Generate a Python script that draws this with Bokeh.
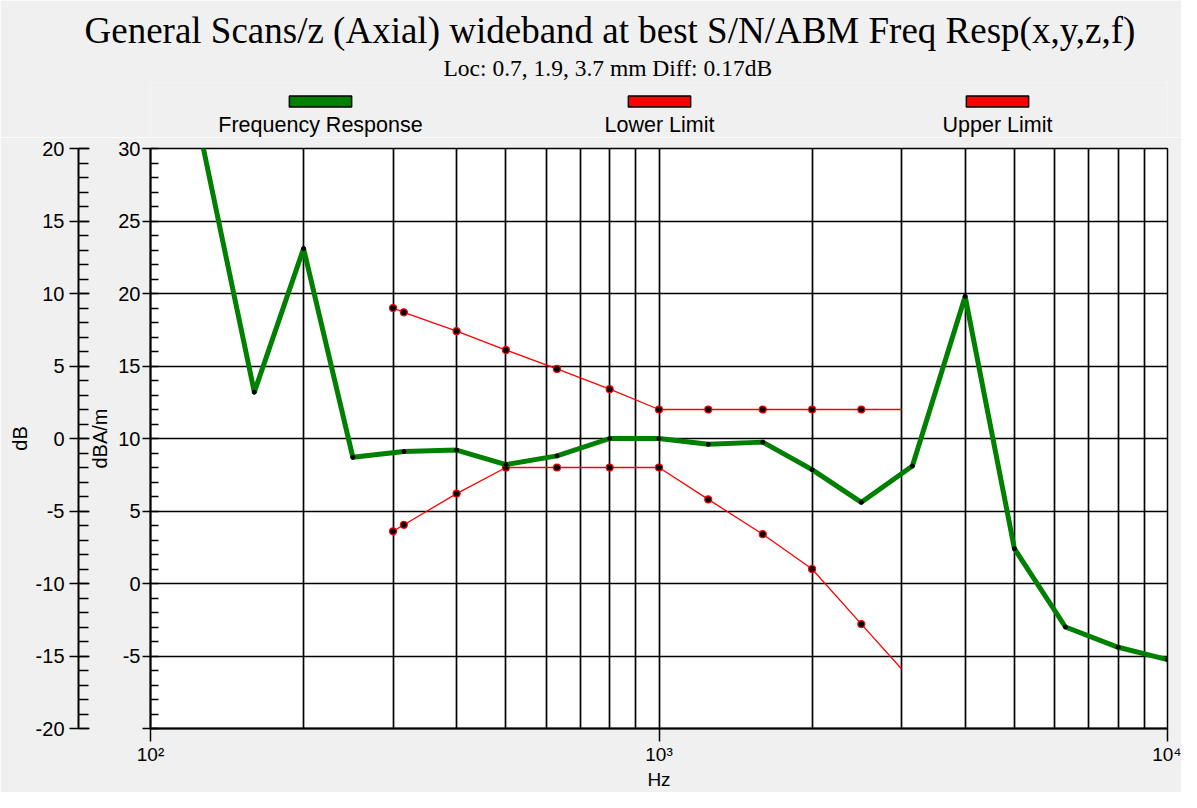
from bokeh.plotting import figure
from bokeh.layouts import column
from bokeh.models import (Range1d, LinearAxis, SingleIntervalTicker, FixedTicker,
                          Label, Title, ColumnDataSource, PrintfTickFormatter)
from bokeh.embed import file_html
from bokeh.resources import INLINE

title_text = "General Scans/z (Axial) wideband at best S/N/ABM Freq Resp(x,y,z,f)"
subtitle_text = "Loc: 0.7, 1.9, 3.7 mm Diff: 0.17dB"
legend_names = ["Frequency Response", "Lower Limit", "Upper Limit"]
legend_colors = ["#008000", "#FF0000", "#FF0000"]

# Frequency response (dBA/m scale)
fr_freq = [125, 160, 200, 250, 315, 400, 500, 630, 800, 1000, 1250, 1600,
           2000, 2500, 3150, 4000, 5000, 6300, 8000, 10000]
fr_val = [31.2, 13.2, 23.1, 8.7, 9.1, 9.2, 8.2, 8.8, 10.0, 10.0, 9.6, 9.75,
          7.85, 5.6, 8.1, 19.8, 2.4, -3.0, -4.4, -5.25]

upper_freq = [300, 315, 400, 500, 630, 800, 1000, 1250, 1600, 2000, 2500, 3000]
upper_val = [19.0, 18.7, 17.4, 16.1, 14.8, 13.4, 12, 12, 12, 12, 12, 12]

lower_freq = [300, 315, 400, 500, 630, 800, 1000, 1250, 1600, 2000, 2500, 3000]
lower_val = [3.6, 4.05, 6.2, 8, 8, 8, 8, 5.8, 3.4, 1.0, -2.8, -5.9]

x_major = [100, 1000, 10000]
x_major_labels = {100: "10²", 1000: "10³", 10000: "10⁴"}
x_minor = [m * 10 ** e for e in (2, 3) for m in range(2, 10)]

SANS = "Liberation Sans"
SERIF = "Liberation Serif"
BG = "#F0F0F0"
W = 1181
HEAD_H = 137
MAIN_H = 655
FL, FR = 150, 14   # frame borders left / right (shared by both canvases)

# ---------------- header (title, subtitle, legend) ----------------
head = figure(width=W, height=HEAD_H, title=None,
              x_range=Range1d(0, 1), y_range=Range1d(0, 1),
              output_backend="svg", toolbar_location=None,
              x_axis_location=None, y_axis_location=None,
              min_border_left=FL, min_border_right=FR,
              min_border_top=82, min_border_bottom=0)
head.grid.visible = False
head.outline_line_color = None
head.background_fill_color = BG
head.border_fill_color = BG

# subtitle first (closest to the legend), then main title on top
head.add_layout(Title(text=subtitle_text, align="left", offset=293,
                      vertical_align="bottom", standoff=4,
                      text_font=SERIF, text_font_size="23.5px",
                      text_font_style="normal", text_color="black"), "above")
head.add_layout(Title(text=title_text, align="left", offset=-66,
                      vertical_align="bottom", standoff=0,
                      text_font=SERIF, text_font_size="37px",
                      text_font_style="normal", text_color="black"), "above")

legend_x = [170, 509, 847]          # frame-relative centres
for name, col, lx in zip(legend_names, legend_colors, legend_x):
    head.add_layout(Label(x=lx, y=36, x_units="screen", y_units="screen", text=" ",
                          text_align="center", text_baseline="middle",
                          text_font_size="1px",
                          padding=dict(left=31, right=31, top=5, bottom=5),
                          background_fill_color=col, border_line_color="black",
                          border_line_width=1.5))
    head.add_layout(Label(x=lx, y=12.5, x_units="screen", y_units="screen", text=name,
                          text_align="center", text_baseline="middle", text_font=SANS,
                          text_font_size="21.5px", text_color="black"))

# ---------------- main plot ----------------
p = figure(width=W, height=MAIN_H, title=None, x_axis_type="log",
           x_range=Range1d(100, 10000), y_range=Range1d(-10, 30),
           output_backend="svg", toolbar_location=None,
           min_border_left=FL, min_border_right=FR,
           min_border_top=11, min_border_bottom=59)
p.border_fill_color = BG
p.background_fill_color = "white"
p.outline_line_color = "black"
p.outline_line_width = 1.5

# x axis
xt = FixedTicker(ticks=x_major, minor_ticks=x_minor)
xax = p.xaxis[0]
xax.ticker = xt
xax.major_label_overrides = x_major_labels
xax.axis_label = "Hz"
xax.axis_line_color = "black"
xax.axis_line_width = 2
xax.major_tick_out = 13
xax.major_tick_in = 0
xax.major_tick_line_width = 1.5
xax.minor_tick_out = 0
xax.minor_tick_in = 0
xax.major_label_standoff = 2
xax.axis_label_standoff = 1
xax.major_label_text_font = SANS
xax.major_label_text_font_size = "19px"
xax.major_label_text_color = "black"
xax.axis_label_text_font = SANS
xax.axis_label_text_font_size = "19px"
xax.axis_label_text_font_style = "normal"
xax.axis_label_text_color = "black"

xg = p.xgrid[0]
xg.ticker = xt
xg.grid_line_color = "black"
xg.grid_line_width = 1.7
xg.minor_grid_line_color = "black"
xg.minor_grid_line_width = 1.7

# inner y axis (dBA/m)
yt = SingleIntervalTicker(interval=5, num_minor_ticks=5)
yax = p.yaxis[0]
yax.ticker = yt
yax.axis_label = "\ndBA/m"
yax.formatter = PrintfTickFormatter(format="%d")
yax.major_label_overrides = {-10: ""}
p.ygrid[0].ticker = yt
p.ygrid[0].grid_line_color = "black"
p.ygrid[0].grid_line_width = 1.7

# outer y axis (dB)
p.extra_y_ranges = {"db": Range1d(-20, 20)}
yax2 = LinearAxis(y_range_name="db",
                  ticker=SingleIntervalTicker(interval=5, num_minor_ticks=5),
                  formatter=PrintfTickFormatter(format="%d"),
                  axis_label="dB")
p.add_layout(yax2, "left")

for ax, tout, tin, mtin, lst, alst in ((yax, 8, 0, 8, 2, 4), (yax2, 9, 11, 10, 5, 2)):
    ax.axis_line_color = "black"
    ax.axis_line_width = 2
    ax.major_tick_out = tout
    ax.major_tick_in = tin
    ax.major_tick_line_width = 1.5
    ax.minor_tick_out = 0
    ax.minor_tick_in = mtin
    ax.minor_tick_line_width = 1.5
    ax.minor_tick_line_color = "black"
    ax.major_label_standoff = lst
    ax.axis_label_standoff = alst
    ax.major_label_text_font = SANS
    ax.major_label_text_font_size = "20px"
    ax.major_label_text_color = "black"
    ax.axis_label_text_font = SANS
    ax.axis_label_text_font_size = "20px"
    ax.axis_label_text_font_style = "normal"
    ax.axis_label_text_color = "black"
yax.axis_label_text_line_height = 0.36

# data
fr_src = ColumnDataSource(dict(f=fr_freq, v=fr_val))
up_src = ColumnDataSource(dict(f=upper_freq, v=upper_val))
lo_src = ColumnDataSource(dict(f=lower_freq, v=lower_val))
up_pts = ColumnDataSource(dict(f=upper_freq[:-1], v=upper_val[:-1]))
lo_pts = ColumnDataSource(dict(f=lower_freq[:-1], v=lower_val[:-1]))

p.line("f", "v", source=up_src, line_color="#FF0000", line_width=1.3)
p.line("f", "v", source=lo_src, line_color="#FF0000", line_width=1.3)
p.scatter("f", "v", source=up_pts, size=7, fill_color="black", line_color="#FF0000", line_width=1.2)
p.scatter("f", "v", source=lo_pts, size=7, fill_color="black", line_color="#FF0000", line_width=1.2)
p.line("f", "v", source=fr_src, line_color="#008000", line_width=5, line_join="round")
p.scatter("f", "v", source=fr_src, size=4, fill_color="black", line_color="black")

layout = column(head, p, spacing=0)
open("out.html", "w").write(file_html(layout, INLINE))
